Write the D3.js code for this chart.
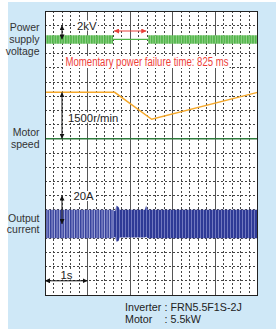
<!DOCTYPE html>
<html>
<head>
<meta charset="utf-8">
<script src="https://cdn.jsdelivr.net/npm/d3@7"></script>
<style>
  body { margin: 0; background: #fff; }
  text { font-family: "Liberation Sans", Arial, sans-serif; }
  .narrow { font-family: "Liberation Sans Narrow", "Arial Narrow", "Liberation Sans", sans-serif; }
</style>
</head>
<body>
<div id="chart"></div>
<script>
// time base: 5 divisions of 1 s, 20 vertical divisions
var timeDomain = [0, 5];
var majorTicks = [1, 2, 3, 4];
var minorTicks = d3.range(0.2, 5, 0.2).filter(function(t){ return Math.abs(t - Math.round(t)) > 0.01; });
var rowLines = d3.range(1, 20);

// power supply voltage (kV): waveform envelope, on before and after the outage
var voltBandStart = [0, 2.43];
var voltBandEnd = [1.6, 5];
var voltPeak = 0.6;
var outageTimes = [1.6, 2.43];

// motor speed (r/min)
var speedTimes = [0, 1.64, 2.51, 5];
var speedValues = [1500, 1500, 630, 1500];

// output current (A): waveform envelope
var currentTimes = [0, 1.6, 1.65, 1.68, 1.73, 1.76, 2.35, 2.38, 2.42, 5];
var currentHi = [10, 10, 9, 13, 12, 10, 10, 13, 10, 10];
var currentLo = [-10, -10, -9, -12.5, -12, -9.5, -9.5, -9, -10, -10];
var currentBeatEnd = 1.6;   // beat pattern visible before the outage

var leftLabels = [
  {lines: ["Power", "supply", "voltage"], div: 2},
  {lines: ["Motor", "speed"], div: 9},
  {lines: ["Output", "current"], div: 15}
];
var noteLines = [["Inverter", ":", "FRN5.5F1S-2J"], ["Motor", ":", "5.5kW"]];

var W = 276, H = 329;
var margin = {top: 11, left: 45, right: 18, bottom: 34};

var svg = d3.select("#chart")
  .append("svg")
    .attr("width", W)
    .attr("height", H);

var defs = svg.append("defs");

// stripe patterns imitate the dense sine waves
var gp = defs.append("pattern").attr("id", "greenWave")
  .attr("patternUnits", "userSpaceOnUse").attr("width", 2.6).attr("height", 20);
gp.append("rect").attr("width", 2.6).attr("height", 20).attr("fill", "#4fb447");
gp.append("rect").attr("x", 1.6).attr("width", 0.8).attr("height", 20).attr("fill", "#a9dba0");

var bp = defs.append("pattern").attr("id", "blueWave")
  .attr("patternUnits", "userSpaceOnUse").attr("width", 3).attr("height", 40);
bp.append("rect").attr("width", 3).attr("height", 40).attr("fill", "#2e3a96");
bp.append("rect").attr("x", 2).attr("width", 0.7).attr("height", 40).attr("fill", "#8d93cf");

var bpa = defs.append("pattern").attr("id", "blueBeat")
  .attr("patternUnits", "userSpaceOnUse").attr("width", 2.5).attr("height", 40);
bpa.append("rect").attr("width", 2.5).attr("height", 40).attr("fill", "#34409c");
bpa.append("rect").attr("x", 1.5).attr("width", 1).attr("height", 40).attr("fill", "#a4a9db");

function addMarker(id, color) {
  defs.append("marker")
    .attr("id", id)
    .attr("viewBox", "0 0 10 10")
    .attr("refX", 10).attr("refY", 5)
    .attr("markerWidth", 5).attr("markerHeight", 5)
    .attr("markerUnits", "userSpaceOnUse")
    .attr("orient", "auto-start-reverse")
    .append("path")
      .attr("d", "M0,0 L10,5 L0,10 z")
      .attr("fill", color);
}
addMarker("arrK", "#111");
addMarker("arrR", "#e8403a");

// light blue panel
svg.append("rect")
  .attr("x", 8).attr("y", 2)
  .attr("width", W - 8).attr("height", H - 2)
  .attr("fill", "#cfe8f7");

var x = d3.scaleLinear().domain(timeDomain).range([margin.left, W - margin.right - 0.5]);
var yDiv = d3.scaleLinear().domain([0, 20]).range([margin.top, H - margin.bottom]);
var yVolt = d3.scaleLinear().domain([-2, 2]).range([yDiv(3), yDiv(1)]);
var ySpeed = d3.scaleLinear().domain([0, 1500]).range([yDiv(9), yDiv(5.73)]);
var yCurr = d3.scaleLinear().domain([-20, 20]).range([yDiv(17), yDiv(13)]);

// plot background
svg.append("rect")
  .attr("x", x(0)).attr("y", yDiv(0))
  .attr("width", x(5) - x(0)).attr("height", yDiv(20) - yDiv(0))
  .attr("fill", "#fff");

var grid = svg.append("g").attr("shape-rendering", "crispEdges");
grid.selectAll(".minor").data(minorTicks).enter().append("line")
  .attr("x1", function(d){ return x(d); }).attr("x2", function(d){ return x(d); })
  .attr("y1", yDiv(0)).attr("y2", yDiv(20))
  .attr("stroke", "#444").attr("stroke-dasharray", "2,2");
grid.selectAll(".row").data(rowLines).enter().append("line")
  .attr("x1", x(0)).attr("x2", x(5))
  .attr("y1", function(d){ return yDiv(d); }).attr("y2", function(d){ return yDiv(d); })
  .attr("stroke", "#444").attr("stroke-dasharray", "2,2");
grid.selectAll(".major").data(majorTicks).enter().append("line")
  .attr("x1", function(d){ return x(d); }).attr("x2", function(d){ return x(d); })
  .attr("y1", yDiv(0)).attr("y2", yDiv(20))
  .attr("stroke", "#555");

// power supply voltage
var voltArea = d3.area()
  .x(function(d){ return x(d); })
  .y0(yVolt(-voltPeak))
  .y1(yVolt(voltPeak));
voltBandStart.forEach(function(s, i) {
  svg.append("path")
    .datum([s, voltBandEnd[i]])
    .attr("d", voltArea)
    .attr("fill", "url(#greenWave)");
});
svg.append("line")
  .attr("x1", x(outageTimes[0])).attr("x2", x(outageTimes[1]))
  .attr("y1", yVolt(0)).attr("y2", yVolt(0))
  .attr("stroke", "#4fb447").attr("stroke-width", 1.2);

// motor speed zero line and trace
svg.append("line")
  .attr("x1", x(0)).attr("x2", x(5))
  .attr("y1", ySpeed(0)).attr("y2", ySpeed(0))
  .attr("stroke", "#2d7a3c").attr("stroke-width", 1.5);
svg.append("path")
  .datum(d3.zip(speedTimes, speedValues))
  .attr("fill", "none")
  .attr("stroke", "#f5a82a")
  .attr("stroke-width", 1.5)
  .attr("d", d3.line()
    .x(function(d){ return x(d[0]); })
    .y(function(d){ return ySpeed(d[1]); }));

// output current
var currArea = d3.area()
  .x(function(i){ return x(currentTimes[i]); })
  .y0(function(i){ return yCurr(currentLo[i]); })
  .y1(function(i){ return yCurr(currentHi[i]); });
var idx = d3.range(currentTimes.length);
svg.append("path")
  .datum(idx.filter(function(i){ return currentTimes[i] >= currentBeatEnd; }))
  .attr("fill", "url(#blueWave)")
  .attr("d", currArea);
svg.append("path")
  .datum(idx.filter(function(i){ return currentTimes[i] <= currentBeatEnd; }))
  .attr("fill", "url(#blueBeat)")
  .attr("d", currArea);

// frame
svg.append("rect")
  .attr("x", x(0)).attr("y", yDiv(0))
  .attr("width", x(5) - x(0)).attr("height", yDiv(20) - yDiv(0))
  .attr("fill", "none").attr("stroke", "#222").attr("shape-rendering", "crispEdges");

// label with white backing
function label(tx, ty, str, size, color, cls, len) {
  var g = svg.append("g");
  var t = g.append("text")
    .attr("x", tx).attr("y", ty)
    .attr("font-size", size)
    .attr("fill", color)
    .attr("class", cls || null)
    .text(str);
  if (len) t.attr("textLength", len).attr("lengthAdjust", "spacingAndGlyphs");
  var b = t.node().getBBox();
  g.insert("rect", "text")
    .attr("x", b.x - 1).attr("y", b.y + 1)
    .attr("width", b.width + 2).attr("height", b.height - 2)
    .attr("fill", "#fff");
}

// scale arrows
function arrow(x1, y1, x2, y2, m) {
  svg.append("line")
    .attr("x1", x1).attr("y1", y1).attr("x2", x2).attr("y2", y2)
    .attr("stroke", m == "arrR" ? "#e8403a" : "#111")
    .attr("stroke-width", 1)
    .attr("marker-start", "url(#" + m + ")")
    .attr("marker-end", "url(#" + m + ")");
}
arrow(x(0.4), yVolt(2), x(0.4), yVolt(0), "arrK");
label(77, 29.5, "2kV", 11.3, "#222");
arrow(x(outageTimes[0]) + 1, 31, x(outageTimes[1]) - 2, 31, "arrR");
label(65.5, 66, "Momentary power failure time: 825 ms", 12.3, "#ee3e38", "narrow", 163);

arrow(x(0.4), ySpeed(1500), x(0.4), ySpeed(0), "arrK");
label(68, 121.5, "1500r/min", 11.3, "#222");

arrow(x(0.4), yCurr(20), x(0.4), yCurr(0), "arrK");
label(73.5, 200, "20A", 11.3, "#222");

arrow(x(0), yDiv(19), x(1), yDiv(19), "arrK");
label(60.5, 278.5, "1s", 11.3, "#222");

// channel names
leftLabels.forEach(function(l) {
  var n = l.lines.length;
  var t = svg.append("text")
    .attr("class", "narrow")
    .attr("text-anchor", "end")
    .attr("font-size", 10.5)
    .attr("fill", "#333");
  l.lines.forEach(function(s, i) {
    t.append("tspan")
      .attr("x", 39.5)
      .attr("y", yDiv(l.div) + 3.5 + (i - (n - 1) / 2) * 11.7)
      .text(s);
  });
});

// inverter note
var noteX = [125, 164.5, 170.5];
noteLines.forEach(function(r, i) {
  r.forEach(function(s, j) {
    svg.append("text").attr("x", noteX[j]).attr("y", 310.5 + i * 12.6)
      .attr("font-size", 10.7).attr("fill", "#222").text(s);
  });
});
</script>
</body>
</html>
